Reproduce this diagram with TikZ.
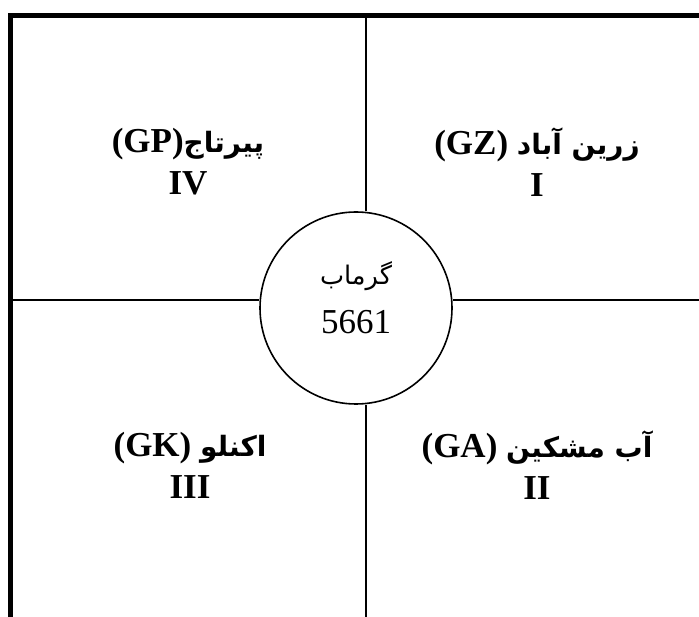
\documentclass[tikz,border=0pt]{standalone}
\usepackage{fontspec}
\setmainfont{Liberation Serif}
\newfontfamily\arabicfont[Script=Arabic,Scale=0.8]{DejaVu Sans}
\TeXXeTstate=1
\usetikzlibrary{positioning}
\newcommand{\fa}[1]{{\arabicfont\beginR #1\endR}}

\begin{document}
\begin{tikzpicture}[x=1pt, y=-1pt, every node/.style={font=\fontsize{35}{42}\selectfont}, zone/.style={align=center,font=\fontsize{35}{42}\selectfont\bfseries}, frame/.style={line width=5pt,line join=miter}, grid/.style={line width=2pt}, hub/.style={draw,circle,line width=1.6pt,minimum size=192pt,inner sep=0pt}]
\useasboundingbox (0,0) rectangle (699,617);
\draw[frame] (10.5,617) -- (10.5,15.5) -- (699,15.5);
\node[hub] (garmab) at (356,308) {};
\node[align=center] (garmabname) at ([yshift=10.5pt]garmab.center) {{\fontsize{32}{40}\selectfont\fa{گرماب}}\\[7pt]5661};
% quarter lines
\coordinate (n) at (366,15.5); \coordinate (s) at (366,617);
\coordinate (w) at (10.5,300); \coordinate (e) at (699,300);
\draw[grid] (n) -- (n |- garmab.north); \draw[grid] (s) -- (s |- garmab.south);
\draw[grid] (w) -- (w -| garmab.west); \draw[grid] (e) -- (e -| garmab.east);
\node[zone] (gz) at (537,162) {(GZ) \fa{زرین آباد}\\I};
\node[zone] (gp) at (188,162) {(GP)\fa{پیرتاج}\\IV};
\node[zone] (gk) at (190,465) {(GK) \fa{اکنلو}\\III};
\node[zone] (ga) at (537,465) {(GA) \fa{آب مشکین}\\II};
\end{tikzpicture}
\end{document}
